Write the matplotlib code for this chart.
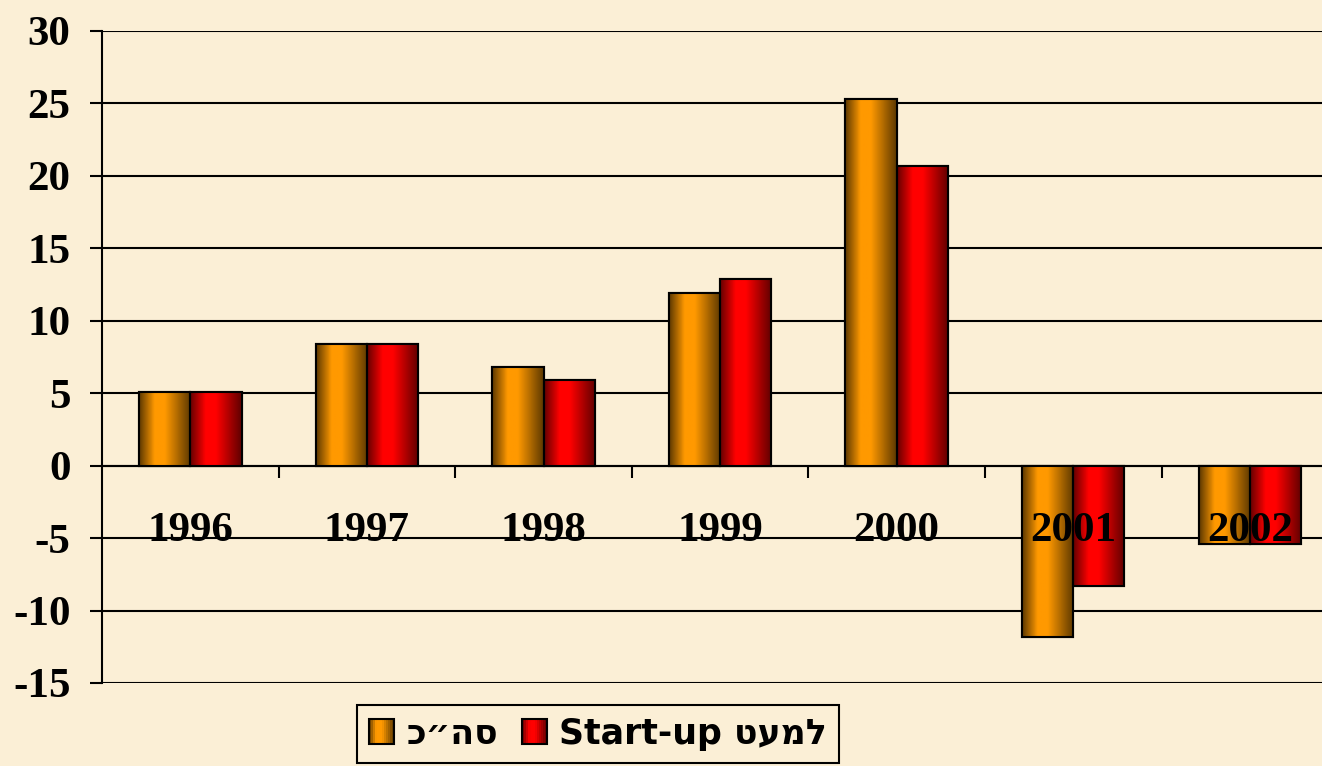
import numpy as np
import matplotlib
matplotlib.use("Agg")
from matplotlib import pyplot as plt
from matplotlib.colors import LinearSegmentedColormap
from matplotlib.patches import Patch, Rectangle
from matplotlib.legend_handler import HandlerBase

plt.rcParams["axes.unicode_minus"] = False

years = ["1996", "1997", "1998", "1999", "2000", "2001", "2002"]
total = [5.1, 8.4, 6.8, 11.9, 25.3, -11.8, -5.4]
no_startup = [5.1, 8.4, 5.9, 12.9, 20.7, -8.3, -5.4]
# matplotlib has no bidi support, so Hebrew runs are written in visual order
labels = ["כ״הס", "Start-up טעמל"]
yticks = [-15, -10, -5, 0, 5, 10, 15, 20, 25, 30]

bg = "#fbefd6"
orange_cm = LinearSegmentedColormap.from_list(
    "org", [(0.0, "#5e3900"), (0.3, "#ff9900"), (0.5, "#ff9900"), (1.0, "#5e3900")])
red_cm = LinearSegmentedColormap.from_list(
    "red", [(0.0, "#660000"), (0.3, "#ff0000"), (0.5, "#ff0000"), (1.0, "#600000")])


class GradHandler(HandlerBase):
    def __init__(self, cmap):
        super().__init__()
        self.cmap = cmap

    def create_artists(self, legend, orig, xd, yd, width, height, fontsize, trans):
        arts = []
        n = 12
        for i in range(n):
            arts.append(Rectangle((xd + width * i / n, yd), width / n, height,
                                  facecolor=self.cmap((i + 0.5) / n),
                                  edgecolor="none", transform=trans))
        arts.append(Rectangle((xd, yd), width, height, fill=False,
                              edgecolor="black", linewidth=1.5, transform=trans))
        return arts


fig = plt.figure(figsize=(13.22, 7.66), dpi=100, facecolor=bg)
ax = fig.add_axes([0.0772, 0.1084, 0.935, 0.8512], facecolor=bg)

x = np.arange(len(years))
w = 0.29
grad = np.linspace(0, 1, 64).reshape(1, -1)

for vals, off, cm, base in [(total, -w / 2, orange_cm, "#ff9900"),
                            (no_startup, w / 2, red_cm, "#ff0000")]:
    bars = ax.bar(x + off, vals, width=w, color=base, edgecolor="black",
                  linewidth=1.5, zorder=3)
    for r in bars:
        x0, y0 = r.get_x(), r.get_y()
        y1 = y0 + r.get_height()
        ax.imshow(grad, cmap=cm, aspect="auto", zorder=3.5,
                  extent=[x0, x0 + r.get_width(), min(y0, y1), max(y0, y1)])
        ax.add_patch(Rectangle((x0, y0), r.get_width(), r.get_height(),
                               fill=False, edgecolor="black", linewidth=1.5,
                               zorder=4))

ax.set_xlim(-0.5, len(years) - 0.5)
ax.set_ylim(-15, 30)
ax.set_yticks(yticks)
ax.yaxis.grid(True, color="black", linewidth=1.5, zorder=0)
ax.set_axisbelow(True)

for s in ["top", "right"]:
    ax.spines[s].set_visible(False)
ax.spines["left"].set_linewidth(1.5)
ax.spines["bottom"].set_position(("data", 0))
ax.spines["bottom"].set_linewidth(1.5)

ax.set_xticks(x[:-1] + 0.5)
ax.set_xticklabels([])
ax.tick_params(axis="x", direction="out", length=8.6, width=1.5)
ax.tick_params(axis="y", direction="out", length=8.6, width=1.5, pad=14)
for t in ax.get_yticklabels():
    t.set_fontfamily("Liberation Serif")
    t.set_fontweight("bold")
    t.set_fontsize(31)

for xi, yr in zip(x, years):
    ax.text(xi, -5.2, yr, ha="center", va="baseline", fontsize=31,
            fontweight="bold", family="Liberation Serif", zorder=6)

h1 = Patch(facecolor="#ff9900")
h2 = Patch(facecolor="#ff0000")
leg = fig.legend([h1, h2], labels, loc="upper left", bbox_to_anchor=(0.27, 0.0796),
                 borderaxespad=0, ncol=2, frameon=True, fancybox=False,
                 edgecolor="black", facecolor=bg, framealpha=1,
                 handlelength=0.72, handleheight=0.72, handletextpad=0.35,
                 columnspacing=0.7, borderpad=0.35,
                 handler_map={h1: GradHandler(orange_cm), h2: GradHandler(red_cm)},
                 prop={"family": "DejaVu Sans", "weight": "bold", "size": 25})
leg.get_frame().set_linewidth(1.5)

fig.savefig("out.png", dpi=100, facecolor=bg)
plt.close(fig)
